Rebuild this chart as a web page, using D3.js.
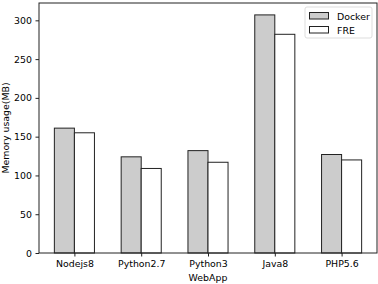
<!DOCTYPE html>
<html>
<head>
<meta charset="utf-8">
<script src="https://cdn.jsdelivr.net/npm/d3@7"></script>
<style>
  body { margin: 0; background: #fff; }
  svg text { font-family: "DejaVu Sans", sans-serif; fill: #000; }
</style>
</head>
<body>
<div id="chart"></div>
<script>
// values
const apps = ["Nodejs8", "Python2.7", "Python3", "Java8", "PHP5.6"];
const docker = [161, 124, 132, 307, 127];
const fre = [155, 109, 117, 282, 120];
const yTicks = [0, 50, 100, 150, 200, 250, 300];
const seriesNames = ["Docker", "FRE"];
const seriesColors = ["#cccccc", "#ffffff"];

const width = 378, height = 284;
const margin = {left: 39, right: 1, top: 3, bottom: 31};

const svg = d3.select("#chart").append("svg")
    .attr("width", width)
    .attr("height", height);

const barW = 0.3;
// matplotlib style margins: 5% on data extent
const lo = -barW, hi = apps.length - 1 + barW;
const pad = (hi - lo) * 0.05;
const x = d3.scaleLinear()
    .domain([lo - pad, hi + pad])
    .range([margin.left, width - margin.right]);

const y = d3.scaleLinear()
    .domain([0, d3.max(docker.concat(fre)) * 1.05])
    .range([height - margin.bottom, margin.top]);

const series = [docker, fre];
series.forEach((vals, s) => {
  svg.append("g").selectAll("rect")
    .data(vals)
    .join("rect")
    .attr("x", (d, i) => x(i + (s - 1) * barW))
    .attr("y", d => y(d))
    .attr("width", x(barW) - x(0))
    .attr("height", d => y(0) - y(d))
    .attr("fill", seriesColors[s])
    .attr("stroke", "#222")
    .attr("stroke-width", 1);
});

// axes
const yAxis = d3.axisLeft(y).tickValues(yTicks).tickSize(3.5).tickPadding(3.5);
const gy = svg.append("g")
    .attr("transform", `translate(${margin.left},0)`)
    .call(yAxis);
gy.select(".domain").remove();
gy.selectAll("text").style("font-size", "9.4px");
gy.selectAll("line").attr("stroke", "#222");

const xAxis = d3.axisBottom(x).tickValues(d3.range(apps.length))
    .tickFormat(i => apps[i]).tickSize(3.5).tickPadding(3.5);
const gx = svg.append("g")
    .attr("transform", `translate(0,${height - margin.bottom})`)
    .call(xAxis);
gx.select(".domain").remove();
gx.selectAll("text").style("font-size", "9.4px");
gx.selectAll("line").attr("stroke", "#222");

// frame
svg.append("rect")
    .attr("x", margin.left)
    .attr("y", margin.top)
    .attr("width", width - margin.left - margin.right)
    .attr("height", height - margin.top - margin.bottom)
    .attr("fill", "none")
    .attr("stroke", "#222")
    .attr("stroke-width", 1);

svg.append("text")
    .attr("x", (margin.left + width - margin.right) / 2)
    .attr("y", 281)
    .attr("text-anchor", "middle")
    .style("font-size", "9.4px")
    .text("WebApp");

svg.append("text")
    .attr("transform", `translate(9,${(margin.top + height - margin.bottom) / 2}) rotate(-90)`)
    .attr("text-anchor", "middle")
    .style("font-size", "9.4px")
    .text("Memory usage(MB)");

// legend
const lg = svg.append("g").attr("transform", "translate(305,7)");
lg.append("rect")
    .attr("width", 67).attr("height", 31).attr("rx", 2)
    .attr("fill", "#fff").attr("stroke", "#ddd").attr("stroke-width", 1);
seriesNames.forEach((name, s) => {
  lg.append("rect")
    .attr("x", 4.5).attr("y", 5.5 + s * 14)
    .attr("width", 19).attr("height", 6.5)
    .attr("fill", seriesColors[s]).attr("stroke", "#222").attr("stroke-width", 1);
  lg.append("text")
    .attr("x", 32).attr("y", 12.5 + s * 14)
    .style("font-size", "9.4px")
    .text(name);
});
</script>
</body>
</html>
